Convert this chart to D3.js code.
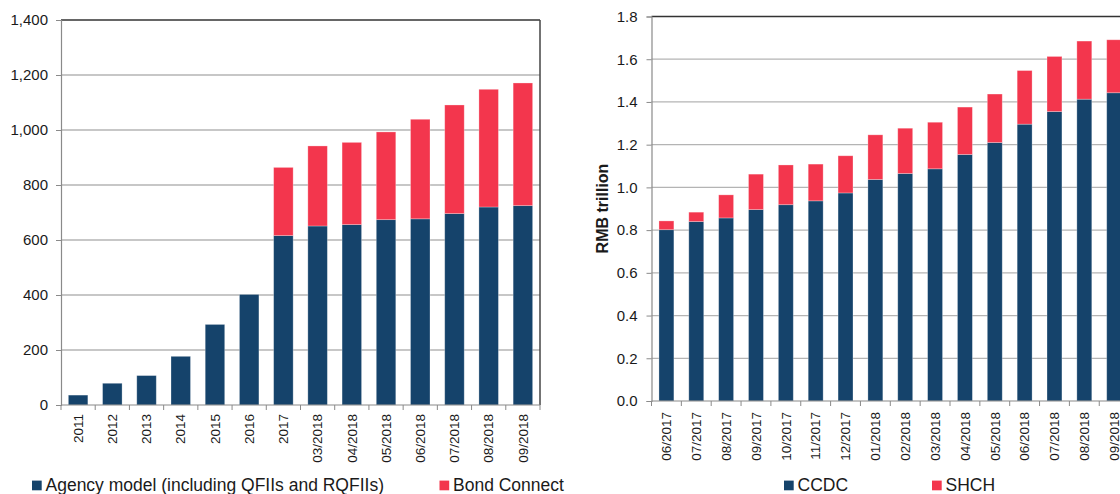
<!DOCTYPE html>
<html>
<head>
<meta charset="utf-8">
<script src="https://cdn.jsdelivr.net/npm/d3@7"></script>
<style>
  html, body { margin: 0; padding: 0; background: #ffffff; overflow: hidden; }
  svg { display: block; font-family: "Liberation Sans", Arial, sans-serif; }
</style>
</head>
<body>
<svg id="chart" width="1120" height="494"></svg>
<script>
// Left panel: foreign holdings by access channel (RMB bn)
const leftCategories = ["2011", "2012", "2013", "2014", "2015", "2016", "2017",
  "03/2018", "04/2018", "05/2018", "06/2018", "07/2018", "08/2018", "09/2018"];
const agencyModel = [36, 79, 107, 177, 293, 402, 616, 651, 656, 674, 677, 696, 720, 725];
const bondConnect = [0, 0, 0, 0, 0, 0, 248, 291, 299, 319, 362, 395, 428, 446];
const leftTicks = [0, 200, 400, 600, 800, 1000, 1200, 1400];
const leftSeriesNames = ["Agency model (including QFIIs and RQFIIs)", "Bond Connect"];

// Right panel: holdings by depository (RMB trillion)
const rightCategories = ["06/2017", "07/2017", "08/2017", "09/2017", "10/2017", "11/2017",
  "12/2017", "01/2018", "02/2018", "03/2018", "04/2018", "05/2018", "06/2018", "07/2018",
  "08/2018", "09/2018"];
const ccdc = [0.802, 0.840, 0.857, 0.896, 0.919, 0.937, 0.974, 1.037, 1.065, 1.087,
  1.154, 1.210, 1.296, 1.355, 1.413, 1.443];
const shch = [0.041, 0.044, 0.108, 0.166, 0.186, 0.172, 0.174, 0.209, 0.212, 0.218,
  0.222, 0.227, 0.251, 0.258, 0.272, 0.248];
const rightTicks = [0, 0.2, 0.4, 0.6, 0.8, 1.0, 1.2, 1.4, 1.6, 1.8];
const rightSeriesNames = ["CCDC", "SHCH"];
const rightAxisTitle = "RMB trillion";

const NAVY = "#15436b";
const RED = "#f3364d";
const GRID = "#b4b4b4";
const AXIS = "#8a8a8a";
const FRAME = "#333333";
const TEXT = "#1a1a1a";

const svg = d3.select("#chart");

function drawPanel(opts) {
  const g = svg.append("g");
  const x = d3.scaleBand()
    .domain(opts.categories)
    .range([opts.x0, opts.x1])
    .paddingInner(opts.pad)
    .paddingOuter(opts.pad / 2);
  const y = d3.scaleLinear()
    .domain([0, opts.ticks[opts.ticks.length - 1]])
    .range([opts.y0, opts.y1]);

  // horizontal gridlines
  g.append("g").selectAll("line")
    .data(opts.ticks.slice(1, -1))
    .join("line")
    .attr("x1", opts.x0).attr("x2", opts.x1)
    .attr("y1", d => y(d)).attr("y2", d => y(d))
    .attr("stroke", GRID).attr("stroke-width", 1.3);

  // top frame line
  g.append("line")
    .attr("x1", opts.x0).attr("x2", opts.x1)
    .attr("y1", y(opts.ticks[opts.ticks.length - 1]))
    .attr("y2", y(opts.ticks[opts.ticks.length - 1]))
    .attr("stroke", FRAME).attr("stroke-width", 1.5);

  // right frame line
  if (opts.rightFrame) {
    g.append("line")
      .attr("x1", opts.x1).attr("x2", opts.x1)
      .attr("y1", opts.y0).attr("y2", opts.y1)
      .attr("stroke", "#444").attr("stroke-width", 1.5);
  }

  // stacked bars
  const stackData = opts.categories.map((c, i) => ({ cat: c, a: opts.s1[i], b: opts.s2[i] }));
  const stacked = d3.stack().keys(["a", "b"])(stackData);
  const colors = [NAVY, RED];
  stacked.forEach((layer, li) => {
    g.append("g").selectAll("rect")
      .data(layer.filter(d => d[1] - d[0] > 0))
      .join("rect")
      .attr("x", d => x(d.data.cat))
      .attr("width", x.bandwidth())
      .attr("y", d => y(d[1]))
      .attr("height", d => y(d[0]) - y(d[1]))
      .attr("fill", colors[li])
      .attr("stroke", "rgba(255,255,255,0.35)")
      .attr("stroke-width", 0.8);
  });

  // y axis
  const yAxis = d3.axisLeft(y)
    .tickValues(opts.ticks)
    .tickFormat(opts.fmt)
    .tickSize(5)
    .tickPadding(opts.tickPad);
  const ya = g.append("g").attr("transform", `translate(${opts.x0},0)`).call(yAxis);
  ya.select(".domain").attr("stroke", AXIS).attr("stroke-width", 1.2);
  ya.selectAll(".tick line").attr("stroke", AXIS);
  ya.selectAll(".tick text")
    .attr("fill", TEXT)
    .style("font-size", "15px")
    .style("font-family", "'Liberation Sans', Arial, sans-serif");

  // x axis: tick marks sit on band boundaries, labels centred on bands
  const xa = g.append("g");
  xa.append("line")
    .attr("x1", opts.x0).attr("x2", opts.x1)
    .attr("y1", opts.y0).attr("y2", opts.y0)
    .attr("stroke", AXIS).attr("stroke-width", 1.2);
  const bounds = opts.categories.map(c => x(c) - x.step() * x.paddingInner() / 2)
    .concat([opts.x1]);
  xa.selectAll("line.tk")
    .data(bounds)
    .join("line")
    .attr("class", "tk")
    .attr("x1", d => d).attr("x2", d => d)
    .attr("y1", opts.y0).attr("y2", opts.y0 + 5)
    .attr("stroke", AXIS);
  xa.selectAll("text")
    .data(opts.categories)
    .join("text")
    .attr("transform", d => `translate(${x(d) + x.bandwidth() / 2},${opts.y0 + opts.labelGap}) rotate(-90)`)
    .attr("text-anchor", "end")
    .attr("dy", "0.35em")
    .attr("fill", TEXT)
    .style("font-size", "13.5px")
    .text(d => d);

  return { x, y, g };
}

// Left panel
drawPanel({
  categories: leftCategories, s1: agencyModel, s2: bondConnect, ticks: leftTicks,
  x0: 61, x1: 540, y0: 405, y1: 20, pad: 0.43, fmt: d3.format(","),
  tickPad: 8, labelGap: 9, rightFrame: true
});

// Right panel (extends beyond the page edge)
drawPanel({
  categories: rightCategories, s1: ccdc, s2: shch, ticks: rightTicks,
  x0: 651.5, x1: 651.5 + 16 * 29.85, y0: 401, y1: 16.5, pad: 0.5, fmt: d3.format(".1f"),
  tickPad: 9, labelGap: 11, rightFrame: false
});

svg.append("text")
  .attr("transform", "translate(602,208.5) rotate(-90)")
  .attr("text-anchor", "middle")
  .attr("dy", "0.35em")
  .attr("fill", TEXT)
  .style("font-size", "16px")
  .style("font-weight", "bold")
  .text(rightAxisTitle);

// Legends
function legendItem(xSq, xText, color, label) {
  svg.append("rect")
    .attr("x", xSq).attr("y", 480.6)
    .attr("width", 9.7).attr("height", 9.7)
    .attr("fill", color);
  svg.append("text")
    .attr("x", xText).attr("y", 490.5)
    .attr("fill", TEXT)
    .style("font-size", "17.5px")
    .text(label);
}
legendItem(32, 45.5, NAVY, leftSeriesNames[0]);
legendItem(439.5, 453, RED, leftSeriesNames[1]);
legendItem(784, 797.5, NAVY, rightSeriesNames[0]);
legendItem(932, 945.5, RED, rightSeriesNames[1]);
</script>
</body>
</html>
